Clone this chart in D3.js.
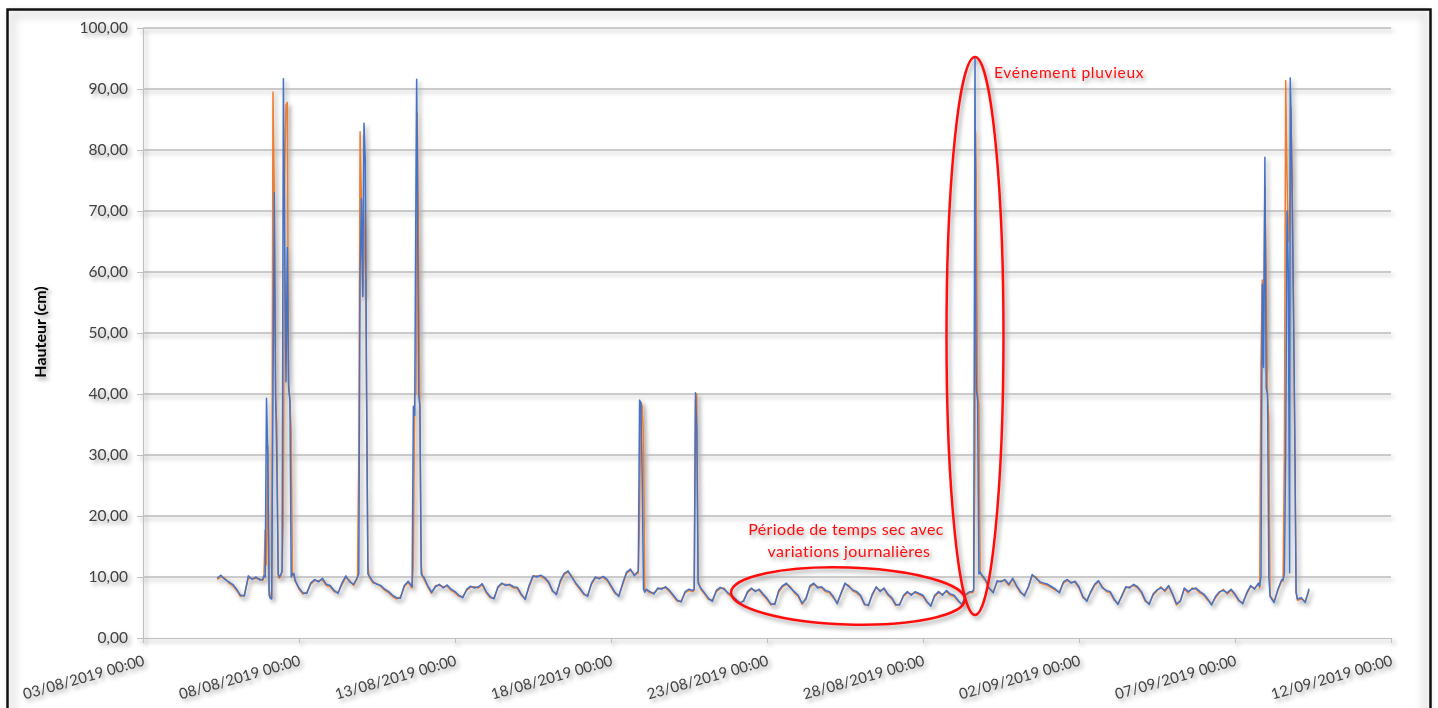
<!DOCTYPE html>
<html><head><meta charset="utf-8">
<script src="https://cdn.jsdelivr.net/npm/d3@7"></script>
<style>
body{margin:0;background:#fff}
svg{display:block}
text{font-family:Lato,"Open Sans","DejaVu Sans",sans-serif}
</style>
</head><body>
<svg id="c" width="1438" height="708"></svg>
<script>
// ---------------- DATA ----------------
const xStart = "03/08/2019 00:00";
const xEnd = "12/09/2019 00:00";
const xTickLabels = ["03/08/2019 00:00","08/08/2019 00:00","13/08/2019 00:00","18/08/2019 00:00","23/08/2019 00:00","28/08/2019 00:00","02/09/2019 00:00","07/09/2019 00:00","12/09/2019 00:00"];
const yTicks = [0,10,20,30,40,50,60,70,80,90,100];
const yTitle = "Hauteur (cm)";

// regular readings every 3 hours from 05/08/2019 09:00 (null = inside a rain event, see spike arrays)
const baseStart = "05/08/2019 09:00";
const baseStepHours = 3;
const blueBase = [
 9.8,10.3,9.6,9.2,8.8,
 8.0,7.0,6.9,10.2,9.6,10.0,9.5,null,
 null,null,null,null,null,null,null,9.5,
 8.2,7.4,7.3,9.0,9.6,9.2,9.8,8.8,
 8.6,7.8,7.3,9.0,10.2,9.2,8.8,null,
 null,null,null,9.2,8.8,8.6,8.0,7.6,
 7.0,6.6,6.5,8.6,9.3,null,null,null,
 10.0,8.6,7.5,8.4,8.8,8.2,8.7,8.0,
 7.6,7.0,6.6,8.0,8.5,8.2,8.4,8.9,
 7.6,6.8,6.4,8.4,9.0,8.6,8.8,8.4,
 8.3,7.2,6.3,8.6,10.2,10.0,10.3,9.9,
 9.2,7.8,7.1,9.4,10.6,11.0,9.9,9.0,
 8.2,7.3,6.8,9.0,10.0,9.7,10.1,9.6,
 8.6,7.5,6.8,9.0,10.8,11.3,10.2,null,
 null,8.0,7.6,7.2,8.2,8.0,8.4,7.8,
 7.0,6.2,5.9,7.6,8.0,7.8,null,8.2,
 7.4,6.5,6.0,7.8,8.3,8.0,7.4,7.0,
 6.4,5.8,6.0,7.6,8.2,7.6,8.0,7.2,
 6.5,5.6,5.5,7.8,8.6,9.0,8.2,7.6,
 7.0,5.7,6.4,8.6,9.0,8.2,8.4,7.8,
 7.6,6.8,5.6,7.4,9.0,8.4,7.9,7.6,
 7.0,5.6,5.3,7.2,8.4,7.6,8.2,7.2,
 6.6,5.5,5.4,7.0,7.6,7.0,7.6,7.3,
 7.0,6.0,5.2,7.0,7.6,7.0,7.8,7.2,
 7.0,6.2,5.4,7.2,7.6,null,null,10.4,
 9.6,8.2,7.4,9.4,9.2,9.6,8.8,9.8,
 8.6,7.6,6.9,8.4,10.4,9.8,9.2,9.0,
 8.8,8.4,8.0,7.4,9.2,9.6,9.0,9.3,
 8.4,6.8,6.0,7.6,8.8,9.4,8.2,7.8,
 7.6,6.4,5.5,7.0,8.4,8.2,8.8,8.4,
 7.6,6.2,5.5,7.2,7.9,8.2,7.8,8.6,
 7.2,5.6,6.0,8.2,7.6,8.0,8.2,7.6,
 7.2,6.4,5.4,6.8,7.6,7.8,7.4,8.0,
 7.2,6.2,5.6,7.4,8.6,8.0,9.0,null,
 null,null,5.8,8.0,9.6,null,null,null,
 6.4,6.6,5.8,8.1
];
const orangeBase = [
 9.6,10.0,9.8,9.0,8.6,
 7.8,6.8,7.1,9.8,9.8,9.7,9.7,null,
 null,null,null,null,null,null,null,9.3,
 8.0,7.2,7.5,8.8,9.4,9.4,9.5,8.6,
 8.4,7.6,7.5,8.7,9.9,9.4,8.6,null,
 null,null,null,9.0,8.9,8.4,7.8,7.4,
 6.8,6.4,6.7,8.4,9.1,null,null,null,
 9.7,8.4,7.3,8.6,8.6,8.4,8.5,7.8,
 7.4,6.8,6.8,7.8,8.3,8.4,8.2,8.7,
 7.4,6.6,6.6,8.2,8.8,8.8,8.6,8.2,
 8.1,7.0,6.5,8.3,10.0,10.2,10.1,9.7,
 9.0,7.6,7.3,9.1,10.4,10.8,10.1,8.8,
 8.0,7.1,7.0,8.8,9.8,9.9,9.9,9.4,
 8.4,7.3,7.0,8.7,10.6,11.1,10.4,null,
 null,7.8,7.4,7.4,8.0,8.2,8.2,7.6,
 6.8,6.0,6.1,7.4,7.8,7.6,null,8.0,
 7.2,6.3,6.2,7.6,8.1,8.2,7.2,6.8,
 6.2,5.6,6.2,7.4,8.0,7.8,7.8,7.0,
 6.3,5.4,5.7,7.5,8.4,8.8,8.4,7.4,
 6.8,5.5,6.6,8.3,8.8,8.4,8.2,7.6,
 7.4,6.6,5.8,7.2,8.8,8.6,7.7,7.4,
 6.8,5.4,5.5,7.0,8.2,7.8,8.0,7.0,
 6.4,5.3,5.6,6.8,7.4,7.2,7.4,7.1,
 6.8,5.8,5.4,6.8,7.4,7.2,7.6,7.0,
 6.8,6.0,5.6,7.0,7.4,null,null,10.2,
 9.4,8.0,7.6,9.1,9.4,9.4,8.6,9.6,
 8.4,7.4,7.1,8.2,10.2,10.0,9.0,8.8,
 8.6,8.2,7.8,7.6,9.0,9.4,9.2,9.1,
 8.2,6.6,6.2,7.4,8.6,9.2,8.4,7.6,
 7.4,6.2,5.7,6.8,8.2,8.4,8.6,8.2,
 7.4,6.0,5.7,7.0,7.7,8.4,7.6,8.4,
 7.0,5.4,6.2,8.0,7.4,8.2,8.0,7.4,
 7.0,6.2,5.6,6.6,7.4,8.0,7.2,7.8,
 7.0,6.0,5.8,7.2,8.4,8.2,8.8,null,
 null,null,6.0,7.8,9.4,null,null,null,
 6.2,6.4,6.0,7.8
];

// rain events, finer readings
const spikeTimes = [
 "06/08/2019 20:00","06/08/2019 21:00","06/08/2019 22:00","06/08/2019 23:00","07/08/2019 00:00","07/08/2019 01:00","07/08/2019 02:00","07/08/2019 03:00","07/08/2019 04:00","07/08/2019 05:00","07/08/2019 06:00","07/08/2019 07:00","07/08/2019 08:00","07/08/2019 09:00","07/08/2019 10:00","07/08/2019 11:00","07/08/2019 12:00","07/08/2019 13:00","07/08/2019 14:00","07/08/2019 15:00","07/08/2019 16:00","07/08/2019 17:00","07/08/2019 18:00","07/08/2019 19:00","07/08/2019 20:00",
 "09/08/2019 21:00","09/08/2019 22:00","09/08/2019 23:00","10/08/2019 00:00","10/08/2019 01:00","10/08/2019 02:00","10/08/2019 03:00","10/08/2019 04:00","10/08/2019 05:00","10/08/2019 06:00",
 "11/08/2019 15:00","11/08/2019 16:00","11/08/2019 17:00","11/08/2019 18:00","11/08/2019 18:30","11/08/2019 19:00","11/08/2019 20:00","11/08/2019 21:00","11/08/2019 22:00","11/08/2019 23:00",
 "18/08/2019 21:00","18/08/2019 22:00","18/08/2019 23:00","19/08/2019 00:00","19/08/2019 01:00","19/08/2019 02:00",
 "20/08/2019 16:00","20/08/2019 17:00","20/08/2019 18:00","20/08/2019 19:00",
 "29/08/2019 14:00","29/08/2019 15:00","29/08/2019 16:00","29/08/2019 16:30","29/08/2019 17:00","29/08/2019 18:00","29/08/2019 19:00","29/08/2019 20:00",
 "07/09/2019 19:00","07/09/2019 20:00","07/09/2019 21:00","07/09/2019 22:00","07/09/2019 23:00","08/09/2019 00:00","08/09/2019 01:00","08/09/2019 02:00","08/09/2019 03:00",
 "08/09/2019 13:00","08/09/2019 14:00","08/09/2019 15:00","08/09/2019 16:00","08/09/2019 17:00","08/09/2019 18:00","08/09/2019 18:30","08/09/2019 19:00","08/09/2019 20:00","08/09/2019 21:00","08/09/2019 22:00","08/09/2019 23:00"
];
const spikeBlue = [
 9.6,10.2,10.0,39.3,30.0,7.0,6.5,6.4,40.0,73.0,40.0,28.0,10.5,10.0,10.4,11.0,91.7,64.7,42.0,64.0,41.0,39.0,10.0,10.5,10.6,
 10.0,10.5,60.0,72.0,56.0,84.4,78.0,40.0,10.5,10.2,
 8.4,38.0,36.5,75.0,91.6,80.0,40.0,38.0,10.5,10.2,
 11.0,39.0,38.5,26.0,8.0,7.5,
 8.0,40.2,34.0,9.0,
 7.6,8.0,95.0,60.0,40.7,39.0,10.5,10.8,
 8.5,10.0,58.0,44.4,78.8,41.0,40.0,10.0,6.8,
 9.5,10.5,30.0,70.0,60.0,10.7,91.8,87.0,72.0,54.0,33.0,7.5
];
const spikeOrange = [
 9.4,9.8,17.7,12.0,31.5,8.0,6.8,6.6,89.5,73.0,39.0,35.0,10.0,9.8,10.2,10.8,20.0,76.0,87.4,87.8,42.0,39.0,34.0,10.2,10.4,
 9.8,30.0,83.0,72.0,56.0,62.0,70.0,40.0,12.0,10.0,
 8.2,12.0,40.0,40.0,60.0,86.0,63.0,37.0,12.0,10.0,
 10.6,20.0,38.7,38.0,33.0,7.8,
 7.8,39.0,40.0,9.5,
 7.4,7.6,30.0,83.0,75.0,40.0,38.4,10.8,
 8.2,45.0,58.7,50.0,74.0,60.0,40.0,36.0,7.0,
 9.3,30.0,91.4,76.0,65.0,70.0,72.0,87.0,75.0,54.0,33.0,7.5
];

const annotRain = "Evénement pluvieux";
const annotDry = ["Période de temps sec avec","variations journalières"];

// ---------------- CHART ----------------
const W = 1438, H = 708;
const parse = d3.timeParse("%d/%m/%Y %H:%M");
const fmtX = d3.timeFormat("%d/%m/%Y %H:%M");
const loc = d3.formatLocale({decimal:",", thousands:" ", grouping:[3], currency:["","€"]});
const fmtY = loc.format(".2f");

const svg = d3.select("#c");
const defs = svg.append("defs");
const sh = defs.append("filter").attr("id","sh").attr("filterUnits","userSpaceOnUse")
  .attr("x",0).attr("y",0).attr("width",W).attr("height",H);
sh.append("feDropShadow").attr("dx",2.5).attr("dy",3).attr("stdDeviation",2)
  .attr("flood-color","#000").attr("flood-opacity",0.38);
const blur = defs.append("filter").attr("id","bl").attr("filterUnits","userSpaceOnUse")
  .attr("x",0).attr("y",0).attr("width",W).attr("height",H);
blur.append("feGaussianBlur").attr("stdDeviation",4);

svg.append("rect").attr("width",W).attr("height",H).attr("fill","#fff");
// frame with soft inner shadow
svg.append("rect").attr("x",12).attr("y",14).attr("width",1414).attr("height",760)
  .attr("fill","none").attr("stroke","rgba(0,0,0,0.13)").attr("stroke-width",6).attr("filter","url(#bl)");
svg.append("rect").attr("x",7.5).attr("y",9.5).attr("width",1423).attr("height",760)
  .attr("fill","none").attr("stroke","#111").attr("stroke-width",2.5);

const x = d3.scaleTime().domain([parse(xStart), parse(xEnd)]).range([143, 1391]);
const y = d3.scaleLinear().domain([0,100]).range([638, 28]);

const g = svg.append("g").attr("filter","url(#sh)");

// gridlines
g.append("g").selectAll("line").data(yTicks.filter(v=>v>0)).join("line")
  .attr("x1",143).attr("x2",1391).attr("y1",d=>y(d)).attr("y2",d=>y(d))
  .attr("stroke","#9a9a9a").attr("stroke-width",1);

// axes
const yAxis = d3.axisLeft(y).tickValues(yTicks).tickFormat(fmtY).tickSize(6).tickPadding(9);
const ya = g.append("g").attr("transform","translate(143,0)").call(yAxis);
ya.select(".domain").attr("stroke","#bfbfbf");
ya.selectAll(".tick line").attr("stroke","#bfbfbf");
ya.selectAll(".tick text").attr("font-size",15.5).attr("fill","#404040").attr("font-family","Lato");

const xTicks = xTickLabels.map(parse);
const xAxis = d3.axisBottom(x).tickValues(xTicks).tickFormat(fmtX).tickSize(5).tickPadding(6);
const xa = g.append("g").attr("transform","translate(0,638)").call(xAxis);
xa.select(".domain").attr("stroke","#bfbfbf");
xa.selectAll(".tick line").attr("stroke","#bfbfbf");
xa.selectAll(".tick text").attr("font-size",15).attr("fill","#404040").attr("font-family","Lato")
  .attr("text-anchor","end").attr("dy",0).attr("y",0)
  .attr("transform","translate(2,27) rotate(-16)");

// y title
g.append("text").attr("transform","translate(46,332) rotate(-90)").attr("text-anchor","middle")
  .attr("font-size",16).attr("font-weight","bold").attr("fill","#000").text(yTitle);

// build series
const t0 = parse(baseStart);
function build(base, spikes){
  const pts = [];
  base.forEach((v,i)=>{ if(v!==null) pts.push({t:d3.timeHour.offset(t0, i*baseStepHours), v}); });
  spikeTimes.forEach((s,i)=>pts.push({t:parse(s), v:spikes[i]}));
  pts.sort((a,b)=>a.t-b.t);
  return pts;
}
const orange = build(orangeBase, spikeOrange);
const blue = build(blueBase, spikeBlue);
const line = d3.line().x(d=>x(d.t)).y(d=>y(d.v));
g.append("path").datum(orange).attr("d",line).attr("fill","none").attr("stroke","#ED7D31")
  .attr("stroke-width",1.5).attr("stroke-linejoin","round");
g.append("path").datum(blue).attr("d",line).attr("fill","none").attr("stroke","#4472C4")
  .attr("stroke-width",1.5).attr("stroke-linejoin","round");

// annotations
const red = "#ff1010";
g.append("ellipse").attr("cx",975).attr("cy",336).attr("rx",28.5).attr("ry",279)
  .attr("fill","none").attr("stroke",red).attr("stroke-width",2.5);
g.append("ellipse").attr("cx",848).attr("cy",596).attr("rx",117).attr("ry",28.5)
  .attr("transform","rotate(1.8,848,596)")
  .attr("fill","none").attr("stroke",red).attr("stroke-width",2.5);
g.append("text").attr("x",994).attr("y",78).attr("font-size",15.5).attr("letter-spacing",0.7)
  .attr("fill",red).text(annotRain);
g.append("text").attr("x",846).attr("y",535).attr("text-anchor","middle").attr("font-size",16)
  .attr("letter-spacing",0.4).attr("fill",red).text(annotDry[0]);
g.append("text").attr("x",849).attr("y",557).attr("text-anchor","middle").attr("font-size",16)
  .attr("letter-spacing",0.4).attr("fill",red).text(annotDry[1]);
</script>
</body></html>
